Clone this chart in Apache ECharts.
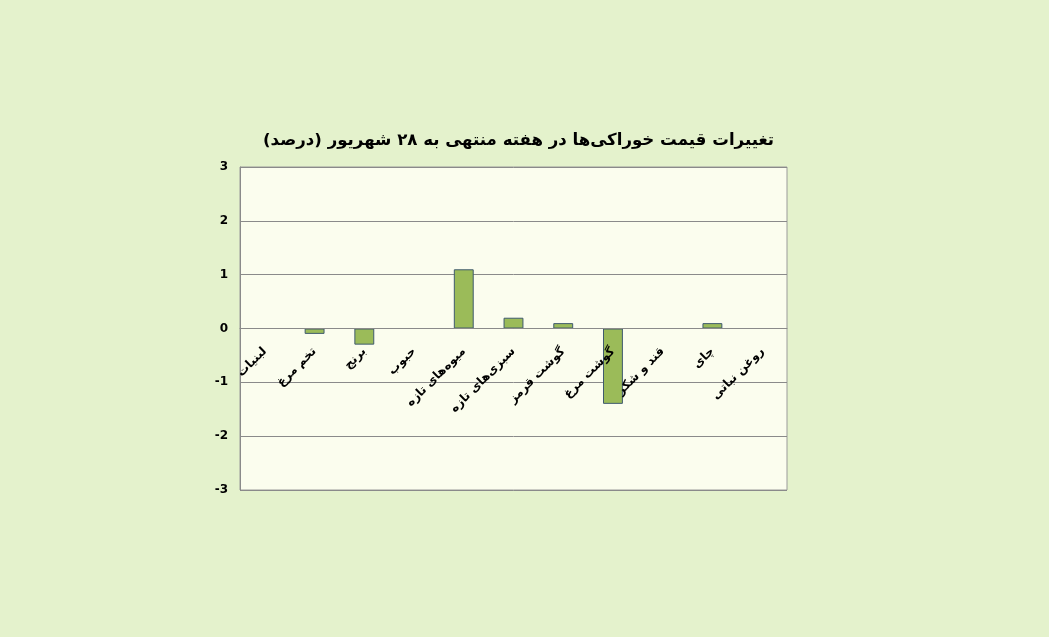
<!DOCTYPE html>
<html>
<head>
<meta charset="utf-8">
<script src="https://cdn.jsdelivr.net/npm/echarts@6/dist/echarts.min.js"></script>
<style>
html, body { margin: 0; padding: 0; background: #e4f2cc; }
#chart { width: 1049px; height: 637px; }
</style>
</head>
<body>
<div id="chart"></div>
<script>
// داده‌ها
var TITLE = 'تغییرات قیمت خوراکی‌ها در هفته منتهی به ۲۸ شهریور (درصد)'
var CATEGORIES = ['لبنیات', 'تخم مرغ', 'برنج', 'حبوب', 'میوه‌های تازه', 'سبزی‌های تازه',
    'گوشت قرمز', 'گوشت مرغ', 'قند و شکر', 'چای', 'روغن نباتی']
var VALUES = [0, -0.1, -0.3, 0, 1.1, 0.2, 0.1, -1.4, 0, 0.1, 0]
var Y_MIN = -3
var Y_MAX = 3
var Y_STEP = 1

var GRID_TOP = 167
var GRID_BOTTOM = 147
var CHART_H = 637

// محور افقی روی خط صفر
var plotH = CHART_H - GRID_TOP - GRID_BOTTOM
var zeroOffset = -plotH * (0 - Y_MIN) / (Y_MAX - Y_MIN)

var chart = echarts.init(document.getElementById('chart'))

var option = {
    backgroundColor: '#e4f2cc',
    title: {
        text: TITLE,
        left: 258,
        top: 127,
        textStyle: {
            color: '#000',
            fontWeight: 'bold',
            fontSize: 16.6,
            fontFamily: '"DejaVu Sans", sans-serif'
        }
    },
    grid: {
        left: 240,
        right: 262,
        top: GRID_TOP,
        bottom: GRID_BOTTOM,
        show: true,
        backgroundColor: '#fbfdee',
        borderColor: '#9a9a9a',
        borderWidth: 1
    },
    xAxis: {
        type: 'category',
        data: CATEGORIES,
        position: 'bottom',
        offset: zeroOffset,
        z: 5,
        axisLine: { show: true, onZero: false, lineStyle: { color: '#8a8a8a' } },
        axisTick: { show: false },
        axisLabel: {
            rotate: 45,
            interval: 0,
            margin: 21,
            color: '#000',
            fontWeight: 'bold',
            fontSize: 12,
            fontFamily: '"DejaVu Sans", sans-serif'
        }
    },
    yAxis: {
        type: 'value',
        min: Y_MIN,
        max: Y_MAX,
        interval: Y_STEP,
        axisLine: { show: true, lineStyle: { color: '#8a8a8a' } },
        axisTick: { show: false },
        splitLine: { show: true, lineStyle: { color: '#8a8a8a', width: 1 } },
        axisLabel: {
            margin: 12,
            color: '#000',
            fontWeight: 'bold',
            fontSize: 12,
            fontFamily: '"DejaVu Sans", sans-serif'
        }
    },
    series: [{
        type: 'bar',
        data: VALUES,
        barWidth: '40%',
        itemStyle: {
            color: '#9bbb59',
            borderColor: '#3f5a6e',
            borderWidth: 1
        }
    }]
}

chart.setOption(option)
</script>
</body>
</html>
